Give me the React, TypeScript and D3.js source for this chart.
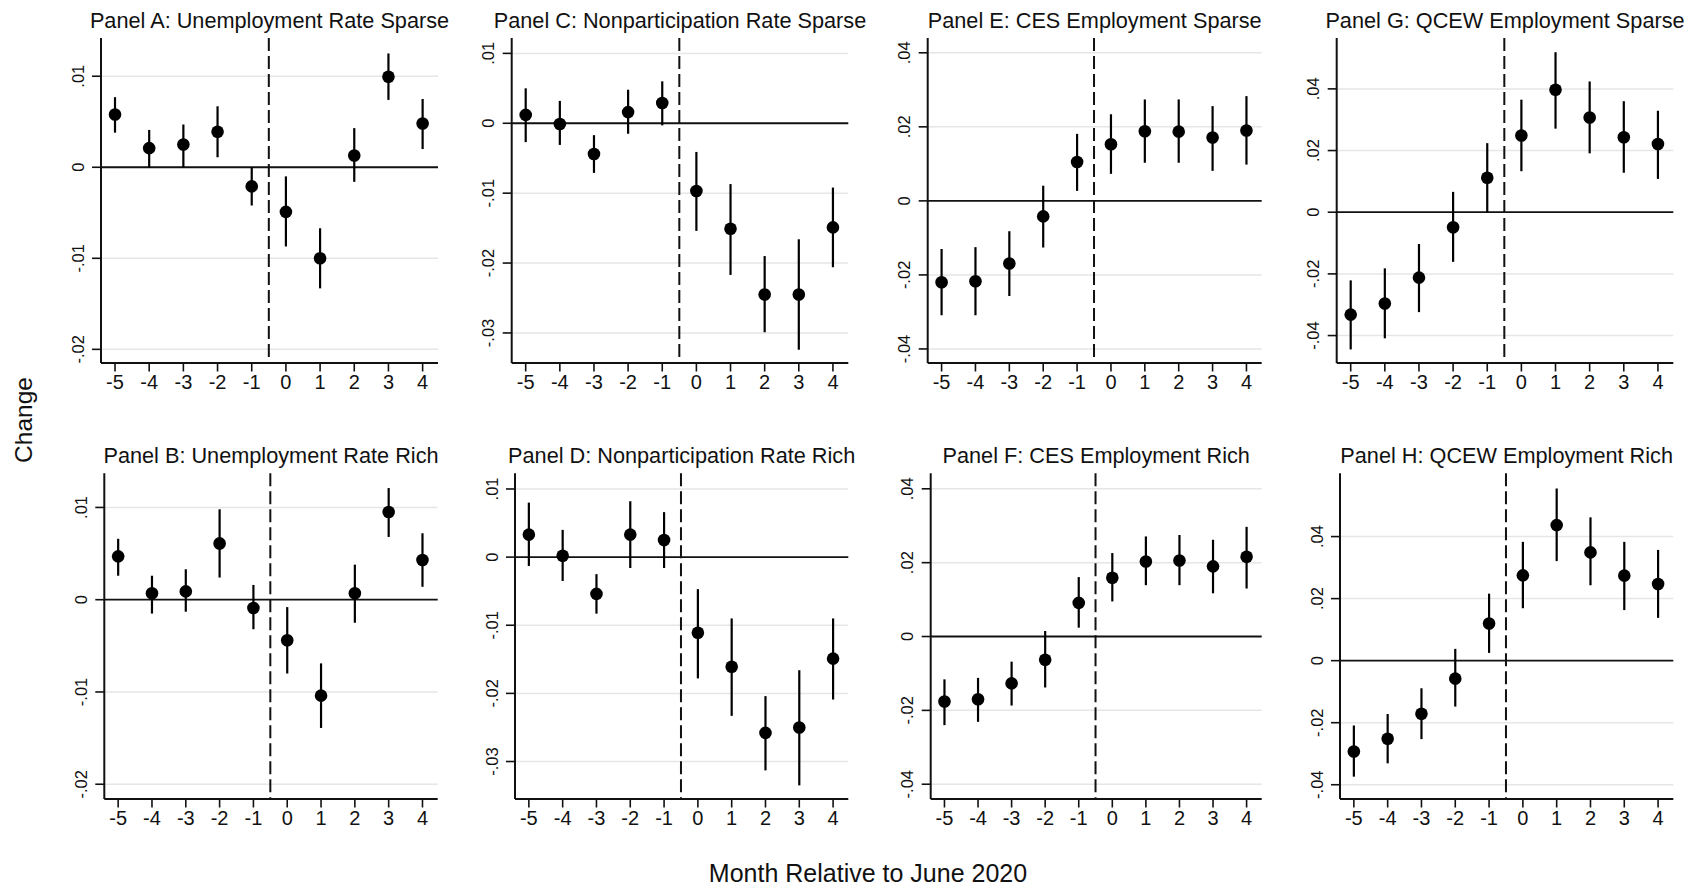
import React from "react";
import { scaleLinear } from "d3";

const width = 1688;
const height = 886;
const font = "'Liberation Sans', Arial, sans-serif";

// months relative to June 2020
const months = [-5, -4, -3, -2, -1, 0, 1, 2, 3, 4];

// Panel A: Unemployment Rate Sparse
const aEst = [0.0058, 0.0021, 0.0025, 0.0039, -0.0021, -0.0049, -0.01, 0.0013, 0.00995, 0.0048];
const aLo = [0.0038, 0.0, 0.0, 0.0011, -0.0042, -0.0087, -0.0133, -0.0016, 0.0074, 0.002];
const aHi = [0.0077, 0.0041, 0.0047, 0.0067, 0.0, -0.001, -0.0067, 0.0043, 0.0125, 0.0075];

// Panel B: Unemployment Rate Rich
const bEst = [0.0047, 0.0007, 0.0009, 0.0061, -0.0009, -0.0044, -0.0104, 0.0007, 0.0095, 0.0043];
const bLo = [0.0026, -0.0015, -0.0013, 0.0024, -0.0032, -0.008, -0.0139, -0.0025, 0.0068, 0.0014];
const bHi = [0.0066, 0.0026, 0.0033, 0.0098, 0.0016, -0.0008, -0.0069, 0.0038, 0.0121, 0.0072];

// Panel C: Nonparticipation Rate Sparse
const cEst = [0.0012, -0.0001, -0.0044, 0.0016, 0.0029, -0.0097, -0.0151, -0.0245, -0.0245, -0.0149];
const cLo = [-0.0027, -0.0031, -0.0071, -0.0015, -0.0003, -0.0154, -0.0217, -0.0299, -0.0324, -0.0206];
const cHi = [0.005, 0.0032, -0.0017, 0.0048, 0.006, -0.0041, -0.0087, -0.019, -0.0166, -0.0092];

// Panel D: Nonparticipation Rate Rich
const dEst = [0.0033, 0.0002, -0.0054, 0.0033, 0.0025, -0.0111, -0.0161, -0.0258, -0.025, -0.0149];
const dLo = [-0.0013, -0.0035, -0.0083, -0.0016, -0.0016, -0.0178, -0.0233, -0.0313, -0.0335, -0.0209];
const dHi = [0.008, 0.004, -0.0025, 0.0082, 0.0066, -0.0047, -0.009, -0.0204, -0.0166, -0.009];

// Panel E: CES Employment Sparse
const eEst = [-0.022, -0.0217, -0.0169, -0.0042, 0.0105, 0.0153, 0.0188, 0.0187, 0.0171, 0.019];
const eLo = [-0.0309, -0.0309, -0.0257, -0.0126, 0.0027, 0.0073, 0.0103, 0.0103, 0.0081, 0.0098];
const eHi = [-0.013, -0.0125, -0.0082, 0.0041, 0.0181, 0.0234, 0.0274, 0.0274, 0.0256, 0.0283];

// Panel F: CES Employment Rich
const fEst = [-0.0176, -0.017, -0.0127, -0.0063, 0.0091, 0.0159, 0.0203, 0.0206, 0.019, 0.0216];
const fLo = [-0.024, -0.0231, -0.0187, -0.0138, 0.0024, 0.0095, 0.0139, 0.0139, 0.0117, 0.013];
const fHi = [-0.0116, -0.0112, -0.0068, 0.0015, 0.0161, 0.0226, 0.0271, 0.0275, 0.0262, 0.0297];

// Panel G: QCEW Employment Sparse
const gEst = [-0.0332, -0.0296, -0.0212, -0.0049, 0.0112, 0.0249, 0.0397, 0.0307, 0.0243, 0.0221];
const gLo = [-0.0445, -0.0409, -0.0324, -0.0161, 0.0, 0.0133, 0.0271, 0.0191, 0.0128, 0.0108];
const gHi = [-0.0221, -0.0182, -0.0103, 0.0066, 0.0224, 0.0365, 0.0519, 0.0424, 0.036, 0.0329];

// Panel H: QCEW Employment Rich
const hEst = [-0.0293, -0.0252, -0.0171, -0.0058, 0.012, 0.0275, 0.0437, 0.0349, 0.0274, 0.0247];
const hLo = [-0.0374, -0.0331, -0.0253, -0.0148, 0.0025, 0.0169, 0.0321, 0.0243, 0.0163, 0.0138];
const hHi = [-0.0209, -0.0172, -0.0089, 0.0038, 0.0216, 0.0383, 0.0555, 0.0462, 0.0383, 0.0357];

const titles = [
  "Panel A: Unemployment Rate Sparse",
  "Panel B: Unemployment Rate Rich",
  "Panel C: Nonparticipation Rate Sparse",
  "Panel D: Nonparticipation Rate Rich",
  "Panel E: CES Employment Sparse",
  "Panel F: CES Employment Rich",
  "Panel G: QCEW Employment Sparse",
  "Panel H: QCEW Employment Rich",
];

const ticksUnemp = [-0.02, -0.01, 0, 0.01];
const ticksNonpart = [-0.03, -0.02, -0.01, 0, 0.01];
const ticksEmp = [-0.04, -0.02, 0, 0.02, 0.04];

const yLabel = "Change";
const xLabel = "Month Relative to June 2020";

// plot boxes (layout)
const rowTop = [
  { top: 38, bottom: 363, titleY: 28 },
  { top: 473.3, bottom: 799, titleY: 463 },
];

const panels = [
  { title: titles[0], est: aEst, lo: aLo, hi: aHi, ticks: ticksUnemp, domain: [-0.0215, 0.0142], left: 101, right: 438, row: 0 },
  { title: titles[1], est: bEst, lo: bLo, hi: bHi, ticks: ticksUnemp, domain: [-0.0216, 0.0137], left: 104.3, right: 437.7, row: 1 },
  { title: titles[2], est: cEst, lo: cLo, hi: cHi, ticks: ticksNonpart, domain: [-0.0343, 0.0122], left: 511.7, right: 848.3, row: 0 },
  { title: titles[3], est: dEst, lo: dLo, hi: dHi, ticks: ticksNonpart, domain: [-0.0355, 0.0123], left: 515, right: 848.3, row: 1 },
  { title: titles[4], est: eEst, lo: eLo, hi: eHi, ticks: ticksEmp, domain: [-0.0438, 0.044], left: 927.7, right: 1261.7, row: 0 },
  { title: titles[5], est: fEst, lo: fLo, hi: fHi, ticks: ticksEmp, domain: [-0.044, 0.0442], left: 930.7, right: 1261.7, row: 1 },
  { title: titles[6], est: gEst, lo: gLo, hi: gHi, ticks: ticksEmp, domain: [-0.0489, 0.0565], left: 1336.7, right: 1673.3, row: 0 },
  { title: titles[7], est: hEst, lo: hLo, hi: hHi, ticks: ticksEmp, domain: [-0.0446, 0.0604], left: 1340, right: 1673.3, row: 1 },
];

// stata-style labels: ".01", "-.02", "0"
const fmt = (v: number) => (v === 0 ? "0" : String(+v.toFixed(3)).replace("0.", "."));

function Panel({ p }: { p: any }) {
  const { top, bottom, titleY } = rowTop[p.row];
  const x = scaleLinear().domain([-5.41, 4.45]).range([p.left, p.right]);
  const y = scaleLinear().domain(p.domain).range([bottom, top]);
  const ink = "#111";

  return (
    <g>
      <text
        x={(p.left + p.right) / 2}
        y={titleY}
        textAnchor="middle"
        fontSize={21.7}
        fill={ink}
      >
        {p.title}
      </text>

      {/* grid */}
      {p.ticks
        .filter((t: number) => t !== 0)
        .map((t: number) => (
          <line key={t} x1={p.left} x2={p.right} y1={y(t)} y2={y(t)} stroke="#e6e6e6" strokeWidth={1.5} />
        ))}

      {/* zero line */}
      <line x1={p.left} x2={p.right} y1={y(0)} y2={y(0)} stroke={ink} strokeWidth={1.8} />

      {/* event line */}
      <line
        x1={x(-0.5)}
        x2={x(-0.5)}
        y1={top}
        y2={bottom}
        stroke={ink}
        strokeWidth={2}
        strokeDasharray="13 5"
      />

      {/* y axis */}
      <line x1={p.left} x2={p.left} y1={top} y2={bottom} stroke={ink} strokeWidth={2} />
      {p.ticks.map((t: number) => (
        <g key={t}>
          <line x1={p.left - 9} x2={p.left} y1={y(t)} y2={y(t)} stroke={ink} strokeWidth={1.6} />
          <text
            transform={`translate(${p.left - 17.5},${y(t)}) rotate(-90)`}
            textAnchor="middle"
            fontSize={16.5}
            fill={ink}
          >
            {fmt(t)}
          </text>
        </g>
      ))}

      {/* x axis */}
      <line x1={p.left} x2={p.right} y1={bottom} y2={bottom} stroke={ink} strokeWidth={2} />
      {months.map((m) => (
        <g key={m}>
          <line x1={x(m)} x2={x(m)} y1={bottom} y2={bottom + 8.5} stroke={ink} strokeWidth={1.6} />
          <text x={x(m)} y={bottom + 26} textAnchor="middle" fontSize={20} fill={ink}>
            {m}
          </text>
        </g>
      ))}

      {/* estimates with CIs */}
      {months.map((m, i) => (
        <g key={`pt-${m}`}>
          <line x1={x(m)} x2={x(m)} y1={y(p.lo[i])} y2={y(p.hi[i])} stroke="#000" strokeWidth={2.2} />
          <circle cx={x(m)} cy={y(p.est[i])} r={6.3} fill="#000" />
        </g>
      ))}
    </g>
  );
}

export default function App() {
  return (
    <svg
      width={width}
      height={height}
      style={{ position: "absolute", left: 0, top: 0, background: "#fff" }}
      fontFamily={font}
    >
      <rect width={width} height={height} fill="#fff" />
      {panels.map((p, i) => (
        <Panel key={i} p={p} />
      ))}
      <text transform="translate(32,420) rotate(-90)" textAnchor="middle" fontSize={24.5} fill="#111">
        {yLabel}
      </text>
      <text x={868} y={882} textAnchor="middle" fontSize={25} fill="#111">
        {xLabel}
      </text>
    </svg>
  );
}
